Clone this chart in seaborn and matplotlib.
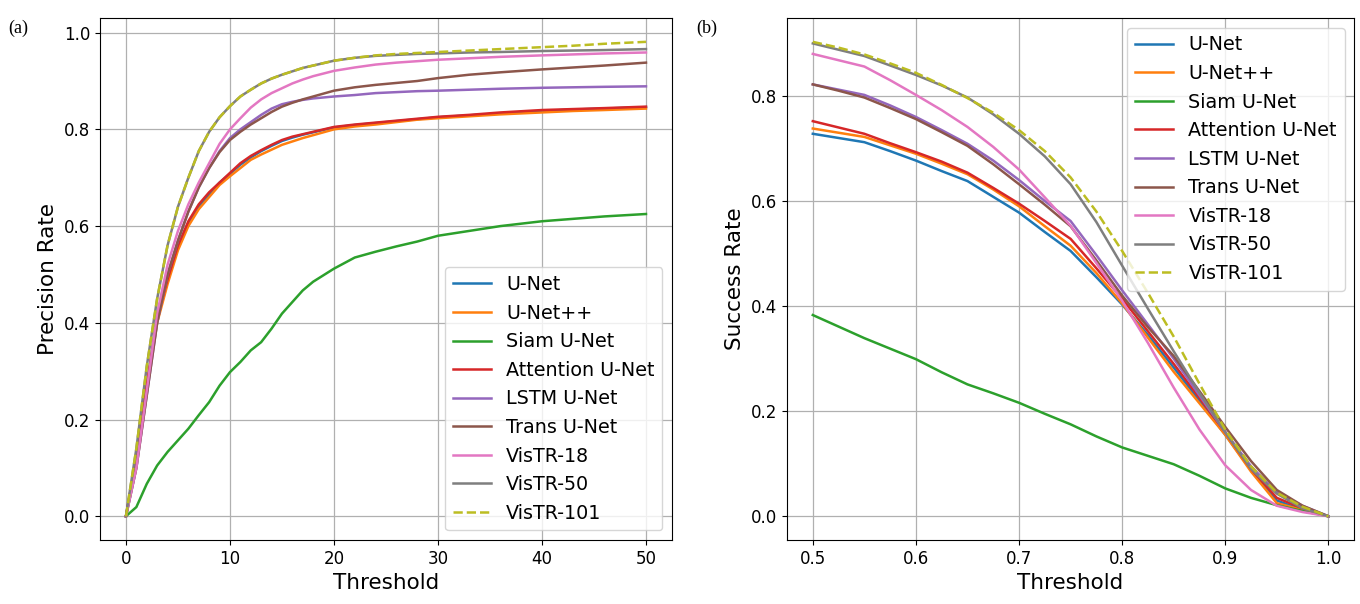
import matplotlib
matplotlib.use("Agg")
import matplotlib.pyplot as plt
import seaborn as sns

# model names (same order / colours for both panels)
models = ['U-Net', 'U-Net++', 'Siam U-Net', 'Attention U-Net', 'LSTM U-Net',
          'Trans U-Net', 'VisTR-18', 'VisTR-50', 'VisTR-101']

# (a) precision rate vs location error threshold
thr_a = [0, 1, 2, 3, 4, 5, 6, 7, 8, 9, 10, 11, 12, 13, 14, 15, 16, 17, 18,
         20, 22, 24, 26, 28, 30, 33, 36, 40, 43, 46, 50]
unet_a = [0, .12, .27, .41, .49, .555, .605, .64, .665, .69, .708, .727, .742, .755, .766, .776,
          .783, .789, .794, .804, .809, .813, .817, .821, .825, .829, .833, .838, .841, .843, .846]
unetpp_a = [0, .12, .27, .40, .48, .55, .60, .635, .66, .685, .703, .72, .737, .748, .758, .768,
            .775, .782, .788, .80, .806, .81, .815, .82, .823, .827, .831, .835, .838, .84, .843]
siam_a = [0, .019, .067, .105, .133, .157, .181, .209, .236, .27, .298, .319, .343, .36, .388, .419,
          .443, .467, .485, .512, .535, .547, .558, .568, .58, .59, .60, .61, .615, .62, .625]
att_a = [0, .12, .27, .41, .49, .56, .61, .645, .67, .69, .71, .73, .745, .757, .768, .778,
         .785, .79, .795, .805, .81, .814, .818, .822, .826, .83, .835, .84, .842, .844, .847]
lstm_a = [0, .10, .25, .40, .50, .57, .63, .68, .72, .755, .782, .80, .815, .83, .843, .852,
          .857, .861, .864, .868, .871, .875, .877, .879, .88, .882, .884, .886, .887, .888, .889]
trans_a = [0, .10, .25, .40, .50, .57, .63, .68, .72, .753, .778, .795, .81, .823, .836, .847,
           .855, .862, .868, .88, .887, .892, .896, .90, .906, .913, .918, .924, .928, .932, .938]
vis18_a = [0, .10, .26, .42, .52, .59, .645, .69, .73, .77, .80, .823, .845, .862, .875, .885,
           .895, .903, .91, .921, .928, .934, .938, .941, .944, .947, .95, .953, .955, .957, .959]
vis50_a = [0, .14, .31, .45, .56, .64, .70, .755, .795, .825, .848, .868, .882, .895, .905, .913,
           .92, .927, .932, .942, .948, .952, .954, .956, .957, .959, .960, .962, .963, .964, .966]
vis101_a = [0, .14, .31, .45, .56, .64, .70, .755, .795, .825, .848, .868, .882, .895, .905, .913,
            .92, .927, .932, .942, .948, .953, .956, .958, .96, .963, .966, .970, .973, .977, .981]

# (b) success rate vs overlap threshold
thr_b = [0.5, 0.525, 0.55, 0.575, 0.6, 0.625, 0.65, 0.675, 0.7, 0.725, 0.75,
         0.775, 0.8, 0.825, 0.85, 0.875, 0.9, 0.925, 0.95, 0.975, 1.0]
unet_b = [.728, .72, .712, .695, .677, .657, .638, .608, .578, .541, .505,
          .455, .403, .345, .283, .22, .155, .088, .03, .012, 0]
unetpp_b = [.738, .73, .722, .706, .690, .671, .651, .622, .590, .552, .515,
            .463, .405, .34, .275, .215, .155, .085, .025, .012, 0]
siam_b = [.383, .361, .339, .319, .299, .274, .251, .234, .216, .195, .175,
          .152, .131, .115, .099, .077, .053, .035, .021, .01, 0]
att_b = [.752, .74, .728, .71, .693, .675, .654, .625, .595, .562, .528,
         .472, .414, .352, .29, .225, .16, .09, .035, .015, 0]
lstm_b = [.822, .812, .802, .782, .760, .735, .709, .677, .64, .60, .562,
          .497, .43, .365, .30, .23, .16, .095, .045, .02, 0]
trans_b = [.822, .810, .797, .777, .756, .731, .705, .670, .632, .593, .552,
           .487, .42, .36, .305, .238, .17, .105, .05, .02, 0]
vis18_b = [.880, .868, .856, .830, .802, .773, .741, .703, .66, .607, .553,
           .482, .41, .33, .245, .165, .097, .05, .02, .008, 0]
vis50_b = [.900, .888, .876, .858, .840, .820, .797, .765, .728, .685, .632,
           .56, .477, .395, .314, .235, .16, .09, .043, .015, 0]
vis101_b = [.903, .892, .879, .862, .844, .821, .796, .768, .735, .695, .645,
            .58, .505, .425, .342, .252, .165, .095, .045, .018, 0]

series_a = [unet_a, unetpp_a, siam_a, att_a, lstm_a, trans_a, vis18_a, vis50_a, vis101_a]
series_b = [unet_b, unetpp_b, siam_b, att_b, lstm_b, trans_b, vis18_b, vis50_b, vis101_b]

colors = sns.color_palette('tab10', 9)

fig = plt.figure(figsize=(13.6, 6.04), dpi=100)
ax1 = fig.add_axes([0.0735, 0.106, 0.4206, 0.864])
ax2 = fig.add_axes([0.5787, 0.106, 0.4170, 0.864])

for ax, xs, series in [(ax1, thr_a, series_a), (ax2, thr_b, series_b)]:
    for name, ys, c in zip(models, series, colors):
        ls = '--' if name == 'VisTR-101' else '-'
        sns.lineplot(x=xs, y=ys, ax=ax, color=c, label=name, linestyle=ls, linewidth=1.8)
    ax.grid(True, color='#b0b0b0', linewidth=0.9)
    ax.set_xlabel('Threshold', fontsize=15.5)
    ax.tick_params(labelsize=12)

ax1.set_ylabel('Precision Rate', fontsize=15.5)
ax2.set_ylabel('Success Rate', fontsize=15.5)
ax1.set_xticks([0, 10, 20, 30, 40, 50])
ax1.set_yticks([0.0, 0.2, 0.4, 0.6, 0.8, 1.0])
ax2.set_xticks([0.5, 0.6, 0.7, 0.8, 0.9, 1.0])
ax2.set_yticks([0.0, 0.2, 0.4, 0.6, 0.8])

ax1.legend(loc='lower right', fontsize=13.8)
ax2.legend(loc='upper right', fontsize=13.8)

fig.text(0.006, 0.968, '(a)', fontsize=13, family='Liberation Serif', va='top')
fig.text(0.512, 0.968, '(b)', fontsize=13, family='Liberation Serif', va='top')

fig.savefig('out.png', dpi=100)
